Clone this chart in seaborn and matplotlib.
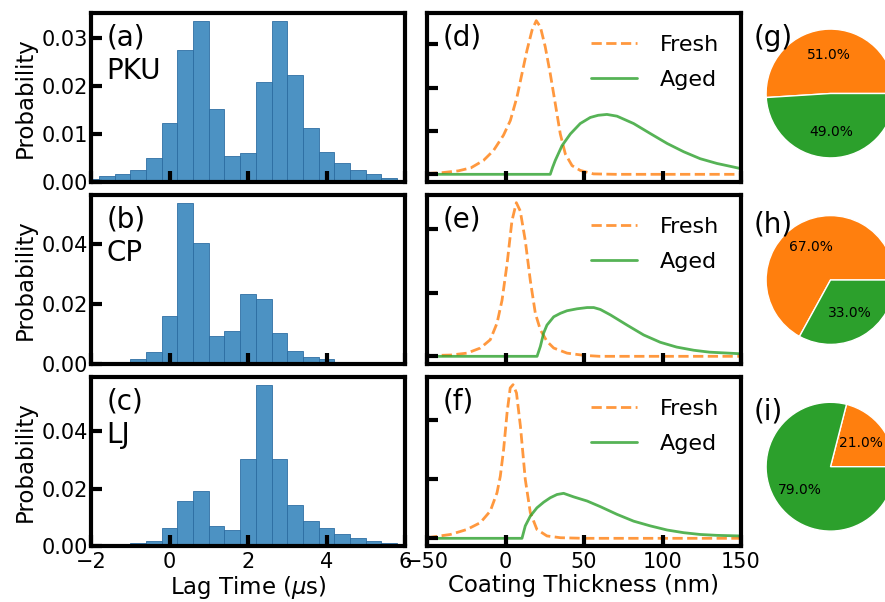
import numpy as np
import pandas as pd
import matplotlib
matplotlib.use("Agg")
import matplotlib.pyplot as plt
import seaborn as sns

# ---- lag-time histograms: bin centres (µs) and probability in each bin ----
lag_centers = [-2.0, -1.6, -1.2, -0.8, -0.4, 0.0, 0.4, 0.8, 1.2, 1.6, 2.0,
               2.4, 2.8, 3.2, 3.6, 4.0, 4.4, 4.8, 5.2, 5.6, 6.0]
prob_pku = [0.0007, 0.0013, 0.0017, 0.0026, 0.0050, 0.0122, 0.0274, 0.0335,
            0.0151, 0.0054, 0.0061, 0.0208, 0.0335, 0.0223, 0.0113, 0.0063,
            0.0040, 0.0026, 0.0017, 0.0008, 0.0003]
prob_cp = [0.0002, 0.0003, 0.0008, 0.0016, 0.0039, 0.0160, 0.0536, 0.0403,
           0.0093, 0.0109, 0.0232, 0.0216, 0.0103, 0.0044, 0.0024, 0.0016,
           0.0008, 0.0004, 0.0002, 0.0001, 0.0001]
prob_lj = [0.0005, 0.0002, 0.0007, 0.0011, 0.0016, 0.0061, 0.0157, 0.0193,
           0.0069, 0.0057, 0.0304, 0.0560, 0.0301, 0.0142, 0.0087, 0.0061,
           0.0043, 0.0028, 0.0018, 0.0011, 0.0007]
bin_width = 0.4

# ---- coating-thickness distributions (nm, probability density) ----
pku_fresh_x = [-50, -40, -30, -22, -14, -7.6, -1.3, 3.1, 7.3, 10.5, 13.7,
               16.9, 19.6, 22.2, 25.3, 28.5, 31.7, 34.9, 38.1, 42.4, 47.6,
               56, 70, 100, 150]
pku_fresh_y = [0.0002, 0.0004, 0.0008, 0.0015, 0.0032, 0.0055, 0.0090, 0.0124,
               0.0178, 0.0232, 0.0286, 0.0332, 0.0354, 0.0340, 0.0294, 0.0232,
               0.0163, 0.0093, 0.0047, 0.0020, 0.0009, 0.0001, 0.0, 0.0, 0.0]
pku_aged_x = [-50, 0, 28.5, 30, 31.7, 36, 41.3, 47.6, 54, 59, 64.6, 71,
              81.6, 92.2, 103, 113.5, 124, 134.7, 145, 150]
pku_aged_y = [0.0, 0.0, 0.0, 0.0016, 0.0032, 0.0066, 0.0093, 0.0117, 0.0131,
              0.0136, 0.0138, 0.0134, 0.0117, 0.0094, 0.0071, 0.0052, 0.0036,
              0.0025, 0.0017, 0.0013]

cp_fresh_x = [-50, -35, -24.5, -16, -9.7, -5.4, -2.2, 1, 4.1, 6.9, 9.4, 12.6,
              15.8, 19, 22.2, 26.4, 30.7, 39.2, 50, 60, 100, 150]
cp_fresh_y = [0.0002, 0.0004, 0.0010, 0.0026, 0.0052, 0.0104, 0.0176, 0.0290,
              0.0425, 0.0482, 0.0456, 0.0363, 0.0238, 0.0135, 0.0083, 0.0047,
              0.0026, 0.0010, 0.0003, 0.0, 0.0, 0.0]
cp_aged_x = [-50, 0, 20.1, 22.2, 24.3, 26.4, 30.7, 35, 39.2, 45.5, 52, 56.2,
             60.4, 66.8, 77.4, 88, 98.6, 109, 120, 130, 150]
cp_aged_y = [0.0, 0.0, 0.0, 0.0031, 0.0073, 0.0098, 0.0124, 0.0135, 0.0143,
             0.0149, 0.0153, 0.0153, 0.0147, 0.0130, 0.0098, 0.0067, 0.0044,
             0.0029, 0.0019, 0.0013, 0.0008]

lj_fresh_x = [-50, -35.1, -24.5, -16, -9.7, -5.4, -3.3, -1.2, 1, 3, 4.8, 7,
              9.5, 12.6, 15.8, 20, 26.4, 35, 50, 100, 150]
lj_fresh_y = [0.0002, 0.0013, 0.0030, 0.0053, 0.0092, 0.0154, 0.0210, 0.0300,
              0.0424, 0.0508, 0.0519, 0.0491, 0.0379, 0.0199, 0.0087, 0.0030,
              0.0008, 0.0002, 0.0, 0.0, 0.0]
lj_aged_x = [-50, 0, 10.5, 12.6, 15.8, 20, 24.3, 28.5, 32.8, 37, 43.4, 52,
             60.4, 71, 81.6, 92.2, 103, 113.5, 124, 134.7, 150]
lj_aged_y = [0.0, 0.0, 0.0, 0.0042, 0.0075, 0.0103, 0.0122, 0.0137, 0.0148,
             0.0152, 0.0140, 0.0126, 0.0107, 0.0081, 0.0058, 0.0042, 0.0028,
             0.0019, 0.0013, 0.0010, 0.0008]

# ---- share of fresh / aged particles ----
pie_labels = ["Fresh", "Aged"]
share_pku = [51, 49]
share_cp = [67, 33]
share_lj = [21, 79]

sites = ["PKU", "CP", "LJ"]
hist_tags = ["(a)", "(b)", "(c)"]
line_tags = ["(d)", "(e)", "(f)"]
pie_tags = ["(g)", "(h)", "(i)"]

sns.set_style("ticks")
plt.rcParams["font.family"] = ["DejaVu Sans"]
plt.rcParams["mathtext.fontset"] = "dejavusans"
for key in ["text.color", "axes.labelcolor", "xtick.color", "ytick.color",
            "axes.edgecolor"]:
    plt.rcParams[key] = "black"

W, H = 885, 602
fig = plt.figure(figsize=(W / 100, H / 100), dpi=100)


def px_axes(left, top, width, height):
    return fig.add_axes([left / W, 1 - (top + height) / H, width / W, height / H])


def style_axes(ax, ystep):
    for sp in ax.spines.values():
        sp.set_linewidth(3)
        sp.set_color("black")
        sp.set_visible(True)
    ax.set_axisbelow(False)
    ax.tick_params(direction="in", length=8, width=3, labelsize=15,
                   top=False, right=False, color="black", labelcolor="black")
    ax.tick_params(axis="y", pad=2)
    ax.tick_params(axis="x", pad=4)
    ax.yaxis.set_major_locator(matplotlib.ticker.MultipleLocator(ystep))


row_tops = [13, 195, 377]
row_h = 169
hist_left, line_left, panel_w = 91, 427, 314
label_size = 16.5

hist_data = [prob_pku, prob_cp, prob_lj]
hist_steps = [0.01, 0.02, 0.02]
edges = [round(c - bin_width / 2, 2) for c in lag_centers]
edges.append(round(lag_centers[-1] + bin_width / 2, 2))

for i in range(3):
    ax = px_axes(hist_left, row_tops[i], panel_w, row_h)
    df = pd.DataFrame({"lag": lag_centers, "prob": hist_data[i]})
    sns.histplot(data=df, x="lag", weights="prob", bins=edges, ax=ax,
                 color="tab:blue", alpha=0.8, edgecolor="#2f6fa3",
                 linewidth=0.6)
    ax.set_xlim(-2, 6)
    ax.set_xticks([-2, 0, 2, 4, 6])
    style_axes(ax, hist_steps[i])
    ax.set_ylabel("Probability", fontsize=label_size, labelpad=4)
    ax.text(0.05, 0.94, f"{hist_tags[i]}\n{sites[i]}", transform=ax.transAxes,
            ha="left", va="top", fontsize=20, linespacing=1.25)
    if i < 2:
        ax.set_xlabel("")
        ax.tick_params(axis="x", labelbottom=False)
    else:
        ax.set_xlabel(r"Lag Time ($\mu$s)", fontsize=label_size, labelpad=1.5)

line_data = [
    (pku_fresh_x, pku_fresh_y, pku_aged_x, pku_aged_y, 0.01),
    (cp_fresh_x, cp_fresh_y, cp_aged_x, cp_aged_y, 0.02),
    (lj_fresh_x, lj_fresh_y, lj_aged_x, lj_aged_y, 0.02),
]

for i, (fx, fy, axx, ayy, step) in enumerate(line_data):
    ax = px_axes(line_left, row_tops[i], panel_w, row_h)
    sns.lineplot(x=fx, y=fy, ax=ax, color="tab:orange", alpha=0.8, lw=2,
                 linestyle="--", label="Fresh")
    sns.lineplot(x=axx, y=ayy, ax=ax, color="tab:green", alpha=0.8, lw=2,
                 label="Aged")
    ax.set_xlim(-50, 150)
    ax.set_xticks([-50, 0, 50, 100, 150])
    style_axes(ax, step)
    ax.tick_params(axis="y", labelleft=False)
    ax.set_ylabel("")
    ax.legend(frameon=False, fontsize=16, loc="upper right",
              labelspacing=0.65, handletextpad=1.0, handlelength=2.1,
              borderaxespad=0.6)
    ax.text(0.05, 0.94, line_tags[i], transform=ax.transAxes,
            ha="left", va="top", fontsize=20)
    if i < 2:
        ax.tick_params(axis="x", labelbottom=False)
    else:
        ax.set_xlabel("Coating Thickness (nm)", fontsize=label_size,
                      labelpad=1.5)

pie_shares = [share_pku, share_cp, share_lj]
pie_centers_y = [93.5, 280, 466.7]
pie_box = 161
for i in range(3):
    cy = pie_centers_y[i]
    ax = px_axes(830.5 - pie_box / 2, cy - pie_box / 2, pie_box, pie_box)
    ax.pie(pie_shares[i], colors=["tab:orange", "tab:green"],
           autopct="%1.1f%%", textprops={"fontsize": 10, "color": "black"})
    fig.text(754 / W, 1 - (cy - 69) / H, pie_tags[i], ha="left", va="top",
             fontsize=20)

fig.savefig("out.png", dpi=100)
